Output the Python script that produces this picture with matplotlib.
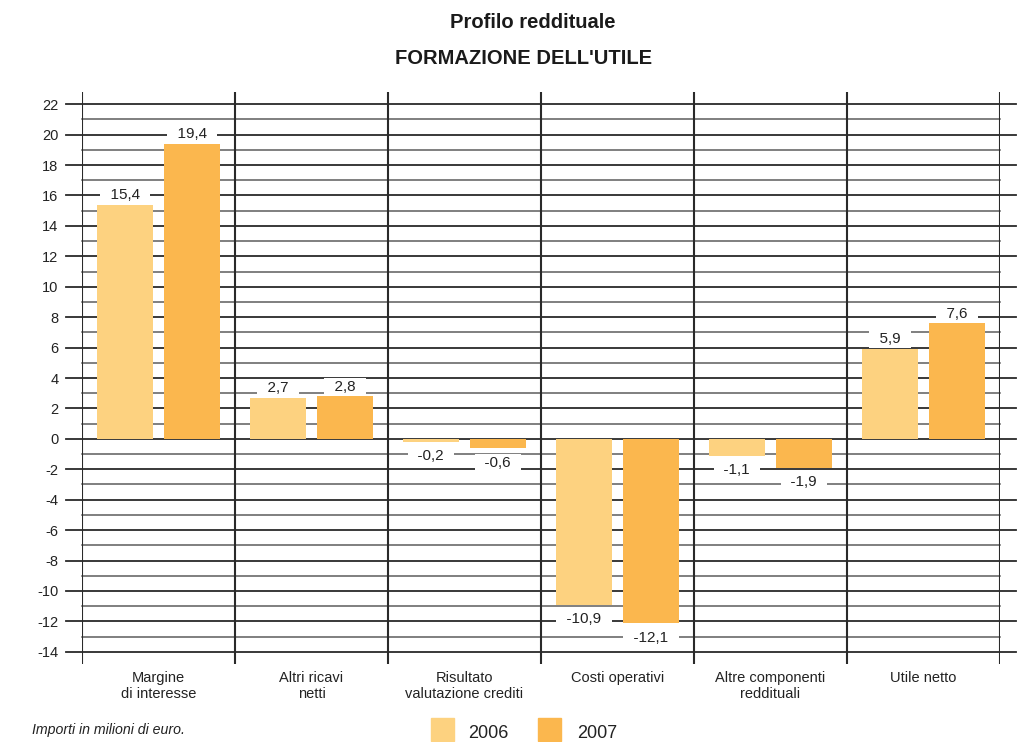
import numpy as np
import matplotlib
matplotlib.use("Agg")
import matplotlib.pyplot as plt
from matplotlib.patches import Rectangle

plt.rcParams['font.family'] = ['Liberation Sans', 'DejaVu Sans']

# Dati del grafico (milioni di euro)
categorie = ["Margine\ndi interesse", "Altri ricavi\nnetti", "Risultato\nvalutazione crediti",
             "Costi operativi", "Altre componenti\nreddituali", "Utile netto"]
valori_2006 = [15.4, 2.7, -0.2, -10.9, -1.1, 5.9]
valori_2007 = [19.4, 2.8, -0.6, -12.1, -1.9, 7.6]
anni = ["2006", "2007"]
tick_y = list(range(-14, 23, 2))

col_2006 = "#FDD280"
col_2007 = "#FBB74E"

fig = plt.figure(figsize=(10.24, 7.42), dpi=100)
ax = fig.add_axes([82 / 1024, 1 - 664 / 742, 918 / 1024, (664 - 92) / 742])
ax.set_xlim(-0.5, 5.5)
ax.set_ylim(-14.8, 22.8)
for s in ax.spines.values():
    s.set_visible(False)
ax.set_xticks([])

# griglia: linee principali sporgenti, secondarie interne
trans = ax.get_yaxis_transform()
for v in tick_y:
    ax.plot([-0.017, 1.017], [v, v], transform=trans, color="#2a2a2a", lw=1.3,
            clip_on=False, zorder=1)
    if v < 22:
        ax.plot([0, 1], [v + 1, v + 1], transform=trans, color="#5c5c5c", lw=1.1,
                clip_on=False, zorder=1)
for i in range(len(categorie) + 1):
    ax.axvline(i - 0.5, color="#2a2a2a", lw=1.5, zorder=1)

ax.set_yticks(tick_y)
ax.set_yticklabels([str(v) for v in tick_y], fontsize=10.5, color="#222222")
ax.tick_params(axis="y", length=0, pad=17)

x = np.arange(len(categorie))
w = 0.36
off = 0.219
ax.bar(x - off, valori_2006, w, color=col_2006, zorder=2)
ax.bar(x + off, valori_2007, w, color=col_2007, zorder=2)

def etichette(xs, vals):
    for xi, v in zip(xs, vals):
        dy = 7 if v >= 0 else -10.5
        testo = "  " + f"{v:.1f}".replace(".", ",") + "  "
        ax.annotate(testo, (xi, v), xytext=(0, dy),
                    textcoords="offset points", ha="center", va="center",
                    fontsize=11, color="#222222", zorder=4,
                    bbox=dict(boxstyle="square,pad=0.12", fc="white", ec="none"))

etichette(x - off, valori_2006)
etichette(x + off, valori_2007)

for xi, c in zip(x, categorie):
    ax.text(xi, -0.012, c, transform=ax.get_xaxis_transform(), ha="center", va="top",
            fontsize=10.5, color="#222222", linespacing=1.2)

fig.text(0.52, 1 - 22 / 742, "Profilo reddituale", ha="center", va="center",
         fontsize=14.5, fontweight="bold", color="#1a1a1a")
fig.text(0.511, 1 - 58 / 742, "FORMAZIONE DELL'UTILE", ha="center", va="center",
         fontsize=14.5, fontweight="bold", color="#1a1a1a")

fig.text(32 / 1024, 1 - 730 / 742, "Importi in milioni di euro.", ha="left", va="center",
         fontsize=10.2, style="italic", color="#222222")

# legenda
for xl, xt, col, lab in [(431, 468, col_2006, anni[0]), (538, 577, col_2007, anni[1])]:
    fig.add_artist(Rectangle((xl / 1024, 1 - 741 / 742), 23 / 1024, 23 / 742,
                             transform=fig.transFigure, color=col))
    fig.text(xt / 1024, 1 - 733 / 742, lab, ha="left", va="center", fontsize=13,
             color="#222222")

fig.savefig("out.png", dpi=100)
